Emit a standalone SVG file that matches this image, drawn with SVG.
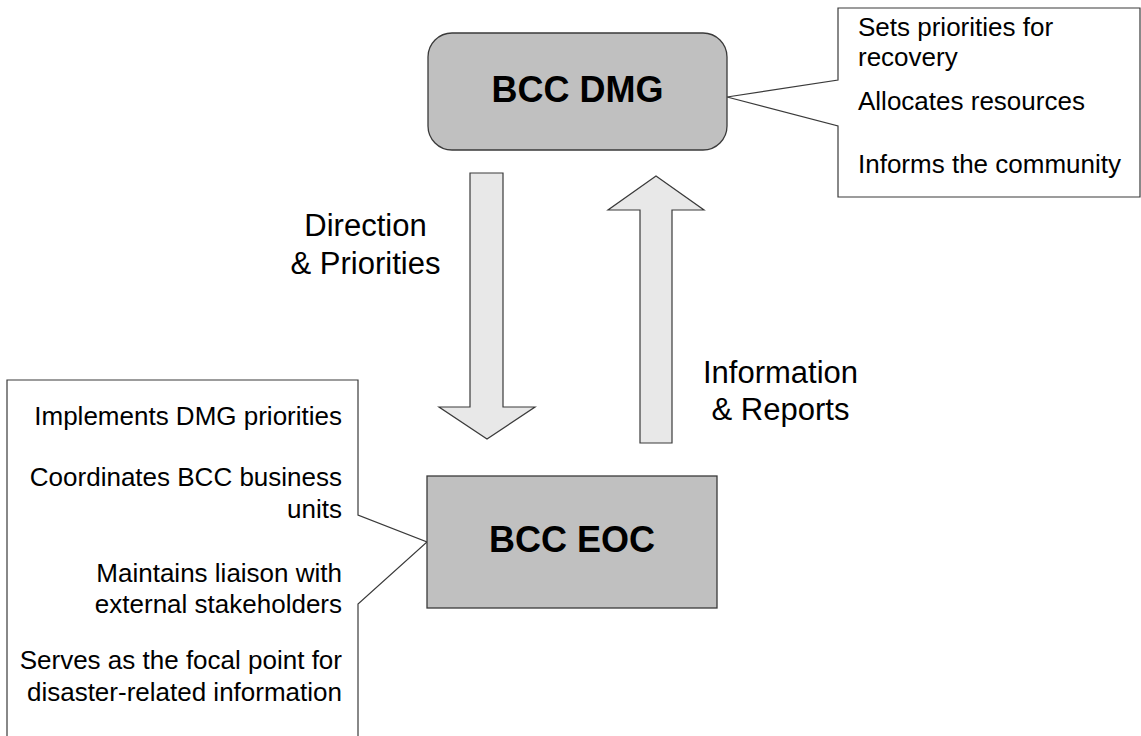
<svg xmlns="http://www.w3.org/2000/svg" width="1141" height="736" viewBox="0 0 1141 736">
<style>
.box{fill:#c0c0c0;stroke:#3a3a3a;stroke-width:1.3}
.callout{fill:#ffffff;stroke:#3a3a3a;stroke-width:1.2}
.arrow{fill:#e8e8e8;stroke:#3a3a3a;stroke-width:1.2}
.title{font-family:"Liberation Sans",Arial,sans-serif;font-weight:bold;font-size:36px;fill:#000;text-anchor:middle}
.lbl{font-family:"Liberation Sans",Arial,sans-serif;font-size:31px;fill:#000;text-anchor:middle}
.item{font-family:"Liberation Sans",Arial,sans-serif;font-size:26px;fill:#000}
.r{text-anchor:end}
</style>
<rect width="1141" height="736" fill="#ffffff"/>
<g id="dmg-callout">
<path class="callout" d="M838,8 H1140 V197 H838 V126 L727,97 L838,80 Z"/>
<text class="item" x="858" y="36">Sets priorities for</text>
<text class="item" x="858" y="66">recovery</text>
<text class="item" x="858" y="110">Allocates resources</text>
<text class="item" x="858" y="173">Informs the community</text>
</g>
<g id="eoc-callout">
<path class="callout" d="M7,380 H358 V515 L427,542 L358,604 V740 H7 Z"/>
<text class="item r" x="342" y="425">Implements DMG priorities</text>
<text class="item r" x="342" y="486">Coordinates BCC business</text>
<text class="item r" x="342" y="518">units</text>
<text class="item r" x="342" y="582">Maintains liaison with</text>
<text class="item r" x="342" y="613">external stakeholders</text>
<text class="item r" x="342" y="669">Serves as the focal point for</text>
<text class="item r" x="342" y="701">disaster-related information</text>
</g>
<g id="dmg">
<rect class="box" x="428" y="33" width="299" height="117" rx="24" ry="24"/>
<text class="title" x="577.5" y="102">BCC DMG</text>
</g>
<g id="eoc">
<rect class="box" x="427" y="476" width="290" height="132"/>
<text class="title" x="572" y="552">BCC EOC</text>
</g>
<g id="connectors">
<path class="arrow" d="M470,173 H503 V407 H535 L487,439 L439,407 H470 Z"/>
<path class="arrow" d="M640,443 V210 H608 L656,176 L704,210 H672 V443 Z"/>
<text class="lbl" x="365.5" y="236">Direction</text>
<text class="lbl" x="365.5" y="274">&amp; Priorities</text>
<text class="lbl" x="780.5" y="383">Information</text>
<text class="lbl" x="780.5" y="420">&amp; Reports</text>
</g>
</svg>
